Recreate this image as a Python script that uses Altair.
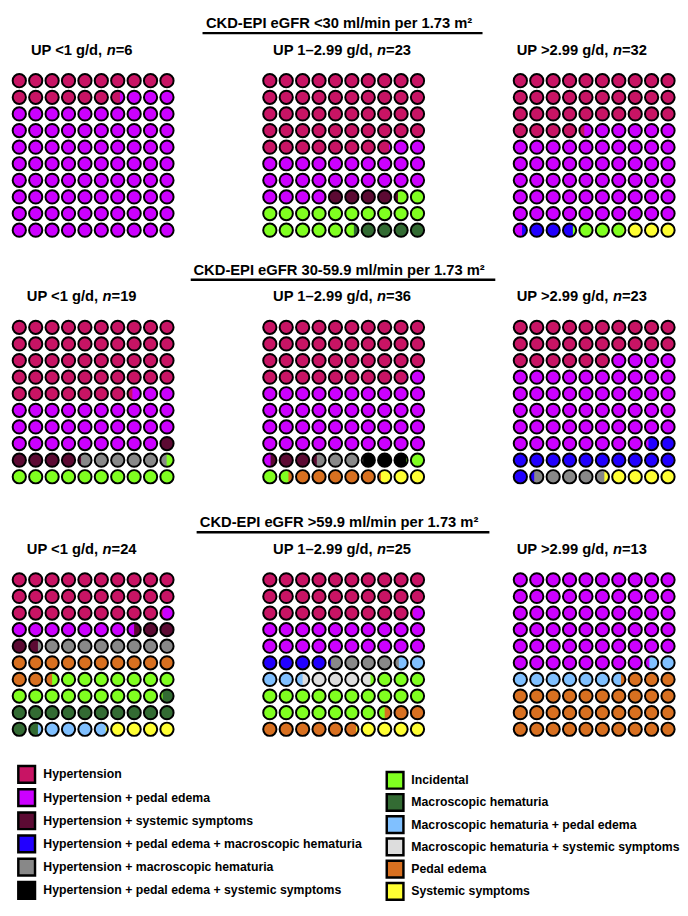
import math
import altair as alt
import pandas as pd

FONT = "Liberation Sans, Arial, Helvetica, sans-serif"

# ---------------- categories ----------------
CAT_CODES = ["HT", "HTPE", "HTSS", "HTPEMH", "HTMH", "HTPESS",
             "INC", "MH", "MHPE", "MHSS", "PE", "SS"]
CAT_LABELS = [
    "Hypertension",
    "Hypertension + pedal edema",
    "Hypertension + systemic symptoms",
    "Hypertension + pedal edema + macroscopic hematuria",
    "Hypertension + macroscopic hematuria",
    "Hypertension + pedal edema + systemic symptoms",
    "Incidental",
    "Macroscopic hematuria",
    "Macroscopic hematuria + pedal edema",
    "Macroscopic hematuria + systemic symptoms",
    "Pedal edema",
    "Systemic symptoms",
]
CAT_COLORS = ["#C81464", "#CC00FF", "#5C0A33", "#2200FF", "#888888", "#000000",
              "#80FF20", "#336B33", "#80C0FF", "#DDDDDD", "#D87020", "#FFFF33"]

SECTION_TITLES = [
    "CKD-EPI eGFR <30 ml/min per 1.73 m\u00b2",
    "CKD-EPI eGFR 30-59.9 ml/min per 1.73 m\u00b2",
    "CKD-EPI eGFR >59.9 ml/min per 1.73 m\u00b2",
]
PANEL_PREFIX = ["UP <1 g/d, ", "UP 1\u20132.99 g/d, ", "UP >2.99 g/d, "]
PANEL_N = [[6, 23, 32], [19, 36, 23], [24, 25, 13]]

# waffle fill order and patient counts per panel
P11_CODES = ["HT", "HTPE"]
P11_COUNTS = [1, 5]
P12_CODES = ["HT", "HTPE", "HTSS", "INC", "MH"]
P12_COUNTS = [11, 6, 1, 4, 1]
P13_CODES = ["HT", "HTPE", "HTPEMH", "INC", "SS"]
P13_COUNTS = [11, 18, 1, 1, 1]
P21_CODES = ["HT", "HTPE", "HTSS", "HTMH", "INC"]
P21_COUNTS = [9, 6, 1, 1, 2]
P22_CODES = ["HT", "HTPE", "HTSS", "HTMH", "HTPESS", "INC", "PE", "SS"]
P22_COUNTS = [14, 15, 1, 1, 1, 1, 2, 1]
P23_CODES = ["HT", "HTPE", "HTPEMH", "HTMH", "SS"]
P23_COUNTS = [6, 12, 3, 1, 1]
P31_CODES = ["HT", "HTPE", "HTSS", "HTMH", "PE", "INC", "MH", "MHPE", "SS"]
P31_COUNTS = [7, 2, 1, 2, 3, 4, 3, 1, 1]
P32_CODES = ["HT", "HTPE", "HTPEMH", "HTMH", "MHPE", "MHSS", "INC", "PE", "SS"]
P32_COUNTS = [7, 5, 1, 1, 1, 1, 5, 2, 1]
P33_CODES = ["HTPE", "MHPE", "PE"]
P33_COUNTS = [7, 1, 4]

PANELS = [
    [(P11_CODES, P11_COUNTS), (P12_CODES, P12_COUNTS), (P13_CODES, P13_COUNTS)],
    [(P21_CODES, P21_COUNTS), (P22_CODES, P22_COUNTS), (P23_CODES, P23_COUNTS)],
    [(P31_CODES, P31_COUNTS), (P32_CODES, P32_COUNTS), (P33_CODES, P33_COUNTS)],
]

# ---------------- layout (pixels, chart-local) ----------------
W, H = 677, 898
PX, PY = 16.7, 16.9                 # cell pitch
SYM = 182                           # circle area -> diameter 13.5
PANEL_X0 = [0, 255, 510]            # left edge of each grid column
GRID_TOP = [55.5, 306.5, 563.5]     # top edge of each section's grids
UNDERLINES = [(194, 479), (182, 492), (188, 486)]
TITLE_CX = 333
SUB_CX = [71, 81, 70]
SUB_FS = 15
LEG_LEFT = dict(x_sq=15, x_txt=32, y0=770, dy=23.6)
LEG_RIGHT = dict(x_sq=390, x_txt=406.5, y0=776, dy=22.6)

cscale = alt.Scale(domain=CAT_CODES, range=CAT_COLORS)
XS = alt.Scale(domain=[0, W / PX], range=[0, W], nice=False, zero=False)
YS = alt.Scale(domain=[0, H / PY], range=[0, H], nice=False, zero=False)

ARIAL_BOLD = {" ": 278, "<": 584, ">": 584, "=": 584, ",": 278, ".": 278,
              "/": 278, "\u2013": 556, "U": 722, "P": 667, "g": 611,
              "d": 611, "n": 611}


def text_w(s, size):
    return sum(ARIAL_BOLD.get(ch, 556) for ch in s) * size / 1000.0


def seg_path(f):
    """left part (fraction f of the width) of a unit circle"""
    c = -1 + 2 * f
    t0 = math.acos(c)
    n = 32
    pts = []
    for i in range(n + 1):
        t = t0 + (2 * math.pi - 2 * t0) * i / n
        pts.append((math.cos(t), math.sin(t)))
    return "M" + " L".join(f"{x:.4f},{y:.4f}" for x, y in pts) + " Z"


def waffle_cells(codes, counts):
    total = sum(counts)
    spans = []
    acc = 0.0
    for c, k in zip(codes, counts):
        start = acc
        acc += 100.0 * k / total
        spans.append((c, start, acc))
    rows = []
    for k in range(100):
        lo, hi = k, k + 1
        parts = []
        for c, s, e in spans:
            ov = min(hi, e) - max(lo, s)
            if ov > 1e-9:
                parts.append((c, ov))
        left_code, left_frac = parts[0]
        right_code = parts[-1][0]
        split = len(parts) > 1 and 0.04 < left_frac < 0.96
        if not split:
            dom = max(parts, key=lambda p: p[1])[0]
            left_code = right_code = dom
        rows.append(dict(col=k % 10, row=k // 10, left=left_code,
                         right=right_code,
                         path=seg_path(left_frac) if split else ""))
    return pd.DataFrame(rows)


# ---------------- build tables ----------------
cell_frames = []
sub_normal, sub_italic = [], []
for si in range(3):
    for ci in range(3):
        codes, counts = PANELS[si][ci]
        df = waffle_cells(codes, counts)
        df["gx"] = (PANEL_X0[ci] + 7.5) / PX + df["col"]
        df["gy"] = (GRID_TOP[si] + 8.45) / PY + df["row"]
        cell_frames.append(df)
        prefix = PANEL_PREFIX[ci]
        rest = "=" + str(PANEL_N[si][ci])
        w1, w2, w3 = text_w(prefix, SUB_FS), text_w("n", SUB_FS), text_w(rest, SUB_FS)
        x0 = PANEL_X0[ci] + SUB_CX[ci] - (w1 + w2 + w3) / 2
        yb = (GRID_TOP[si] - 18) / PY
        sub_normal.append(dict(gx=x0 / PX, gy=yb, t=prefix))
        sub_italic.append(dict(gx=(x0 + w1) / PX, gy=yb, t="n"))
        sub_normal.append(dict(gx=(x0 + w1 + w2) / PX, gy=yb, t=rest))

cells = pd.concat(cell_frames, ignore_index=True)
segs_df = cells[cells["path"] != ""]
sub_normal_df = pd.DataFrame(sub_normal)
sub_italic_df = pd.DataFrame(sub_italic)

head_df = pd.DataFrame({
    "gx": [TITLE_CX / PX] * 3,
    "gy": [(g - 45) / PY for g in GRID_TOP],
    "t": SECTION_TITLES,
})
rule_df = pd.DataFrame({
    "gx": [u[0] / PX for u in UNDERLINES],
    "gx2": [u[1] / PX for u in UNDERLINES],
    "gy": [(g - 40) / PY for g in GRID_TOP],
})

leg_rows = []
for i in range(6):
    leg_rows.append(dict(gxs=LEG_LEFT["x_sq"] / PX, gxt=LEG_LEFT["x_txt"] / PX,
                         gy=(LEG_LEFT["y0"] + LEG_LEFT["dy"] * i) / PY,
                         code=CAT_CODES[i], label=CAT_LABELS[i]))
    leg_rows.append(dict(gxs=LEG_RIGHT["x_sq"] / PX, gxt=LEG_RIGHT["x_txt"] / PX,
                         gy=(LEG_RIGHT["y0"] + LEG_RIGHT["dy"] * i) / PY,
                         code=CAT_CODES[6 + i], label=CAT_LABELS[6 + i]))
leg_df = pd.DataFrame(leg_rows)

# ---------------- marks ----------------
X = alt.X("gx:Q", scale=XS, axis=None)
Y = alt.Y("gy:Q", scale=YS, axis=None)

fills = alt.Chart(cells).mark_circle(size=SYM, opacity=1, strokeWidth=0).encode(
    X, Y, fill=alt.Fill("right:N", scale=cscale, legend=None))
segs = alt.Chart(segs_df).mark_point(filled=True, size=SYM, opacity=1, strokeWidth=0).encode(
    X, Y, shape=alt.Shape("path:N", scale=None),
    fill=alt.Fill("left:N", scale=cscale, legend=None))
rings = alt.Chart(cells).mark_point(shape="circle", filled=False, size=SYM, opacity=1,
                                    stroke="black", strokeWidth=2).encode(X, Y)

tstyle = dict(align="left", baseline="alphabetic", font=FONT, fontSize=SUB_FS,
              fontWeight="bold", color="black")
sub1 = alt.Chart(sub_normal_df).mark_text(**tstyle).encode(X, Y, text="t:N")
sub2 = alt.Chart(sub_italic_df).mark_text(fontStyle="italic", **tstyle).encode(X, Y, text="t:N")

heads = alt.Chart(head_df).mark_text(align="center", baseline="alphabetic", font=FONT,
                                     fontSize=15, fontWeight="bold", color="black").encode(
    X, Y, text="t:N")
rules = alt.Chart(rule_df).mark_rule(color="black", strokeWidth=2.5).encode(
    X, alt.X2("gx2:Q"), Y)

leg_sq = alt.Chart(leg_df).mark_square(size=289, opacity=1, stroke="black", strokeWidth=2.5).encode(
    alt.X("gxs:Q", scale=XS, axis=None), Y,
    fill=alt.Fill("code:N", scale=cscale, legend=None))
leg_tx = alt.Chart(leg_df).mark_text(align="left", baseline="middle", font=FONT, fontSize=12.5,
                                     fontWeight="bold", color="black").encode(
    alt.X("gxt:Q", scale=XS, axis=None), Y, text="label:N")

chart = alt.layer(fills, segs, rings, sub1, sub2, heads, rules, leg_sq, leg_tx).properties(
    width=W, height=H, padding=0
).configure_view(stroke=None)

chart.save("out.html", embed_options={"renderer": "svg", "actions": False})
